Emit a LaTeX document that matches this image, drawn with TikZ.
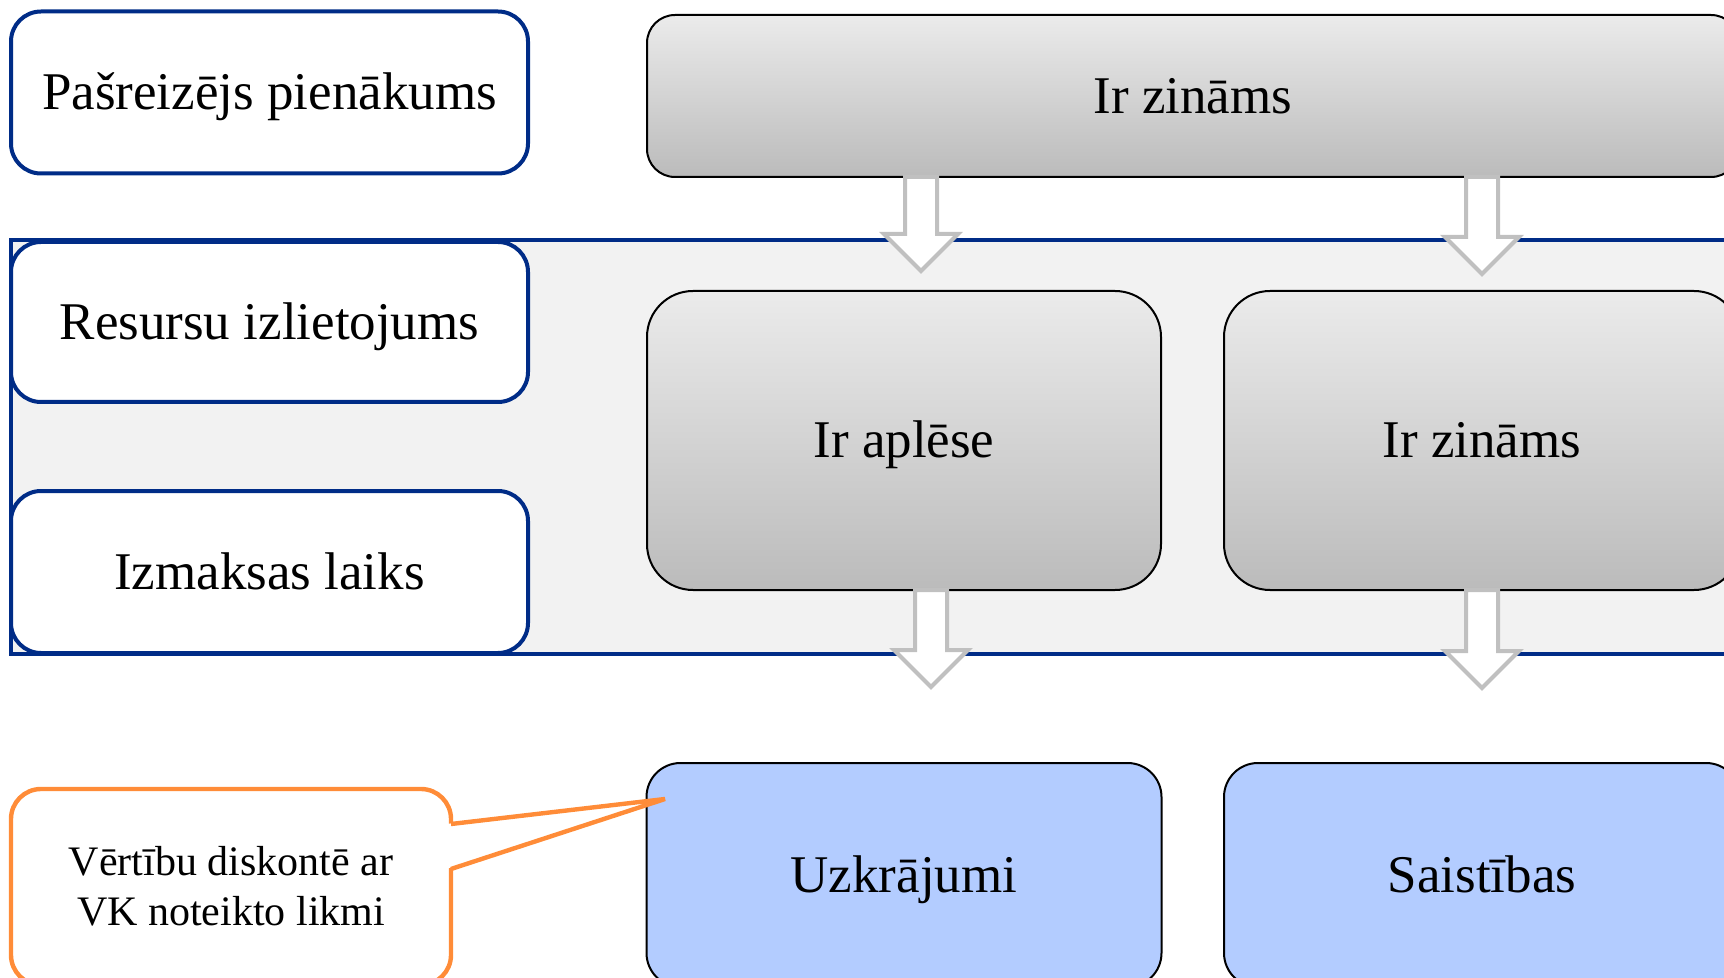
\documentclass[tikz,border=0pt]{standalone}
\usepackage{fontspec}
\setmainfont{Liberation Serif}
\usetikzlibrary{calc}
\definecolor{navyline}{HTML}{002C87}
\definecolor{calloutorange}{HTML}{FF8C38}
\definecolor{bandfill}{HTML}{F2F2F2}
\definecolor{grayTop}{HTML}{EBEBEB}
\definecolor{grayBot}{HTML}{BBBBBB}
\definecolor{blueFill}{HTML}{B3CCFF}
\definecolor{arrowGray}{HTML}{C0C0C0}
\newcommand\blockarr[2]{%
  \draw[barrow] ($(#1)+(-16,0)$) -- ($(#2)+(-16,-37)$) -- ($(#2)+(-37,-37)$) -- (#2)
    -- ($(#2)+(37,-37)$) -- ($(#2)+(16,-37)$) -- ($(#1)+(16,0)$) -- cycle;}
\begin{document}
\begin{tikzpicture}[x=0.5pt,y=-0.5pt,
  bigtext/.style={font=\fontsize{26.5}{32}\selectfont, text height=17.5pt, text depth=0pt},
  lbl/.style={bigtext, draw=navyline, line width=2pt, fill=white, rounded corners=15pt,
    minimum width=258.5pt, minimum height=81pt, inner sep=0pt, outer sep=0pt},
  graybox/.style={bigtext, draw=black, line width=1pt, top color=grayTop, bottom color=grayBot,
    inner sep=0pt, outer sep=0pt},
  bluebox/.style={bigtext, draw=black, line width=1pt, fill=blueFill, rounded corners=17pt,
    minimum width=257.5pt, minimum height=112pt, inner sep=0pt, outer sep=0pt},
  band/.style={draw=navyline, line width=2pt, fill=bandfill, inner sep=0pt, outer sep=0pt},
  barrow/.style={draw=arrowGray, line width=2pt, fill=white, line join=miter},
  calloutbox/.style={draw=calloutorange, line width=2.2pt, fill=white, rounded corners=15pt,
    minimum width=220pt, minimum height=98pt, inner sep=0pt, outer sep=0pt, align=center,
    font=\fontsize{21}{25}\selectfont, text height=38.9pt, text depth=0pt},
  tail/.style={draw=calloutorange, line width=2.2pt, line join=miter}
]
\useasboundingbox (0,0) rectangle (1724,978);
\clip (0,0) rectangle (1724,978);

% background band
\node[band, minimum width=874.5pt, minimum height=207pt] (bandbox) at (885.5,447) {};

% left labels
\node[lbl] (p1) at (269.5,92.5) {Pašreizējs pienākums};
\node[lbl, minimum height=80pt] (r1) at (269.5,322) {Resursu izlietojums};
\node[lbl] (r2) at (269.5,572) {Izmaksas laiks};

% gray boxes
\node[graybox, rounded corners=14pt, minimum width=546pt, minimum height=81pt] (g1) at (1193,96) {Ir zināms};
\node[graybox, rounded corners=23pt, minimum width=257pt, minimum height=149.5pt] (g2) at (904,440.5) {Ir aplēse};
\node[graybox, rounded corners=23pt, minimum width=258pt, minimum height=149.5pt] (g3) at (1482,440.5) {Ir zināms};

% blue boxes
\node[bluebox] (b1) at (904,875) {Uzkrājumi};
\node[bluebox, minimum width=258pt] (b2) at (1482,875) {Saistības};

% block arrows
\coordinate (a1s) at (921,0 |- g1.south);
\coordinate (a1t) at (921,271);
\coordinate (a2s) at (1482,0 |- g1.south);
\coordinate (a2t) at (1482,274);
\coordinate (a3s) at (931,0 |- g2.south);
\coordinate (a3t) at (931,687);
\coordinate (a4s) at (1482,0 |- g3.south);
\coordinate (a4t) at (1482,688);
\blockarr{a1s}{a1t}
\blockarr{a2s}{a2t}
\blockarr{a3s}{a3t}
\blockarr{a4s}{a4t}

% callout
\node[calloutbox] (cal) at (231,887) {Vērtību diskontē ar\\VK noteikto likmi};
\coordinate (tip) at (665,799);
\fill[white] ($(cal.east)+(-5,-63)$) -- (tip) -- ($(cal.east)+(-5,-18)$) -- cycle;
\draw[tail] ($(cal.east)+(0,-63)$) -- (tip) -- ($(cal.east)+(0,-18)$);
\end{tikzpicture}
\end{document}
